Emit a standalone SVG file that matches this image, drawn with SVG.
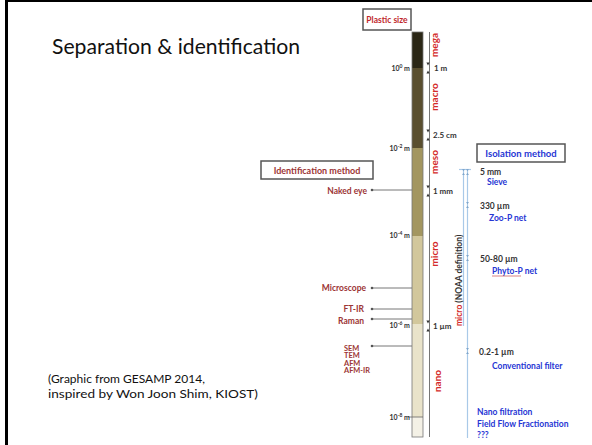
<svg xmlns="http://www.w3.org/2000/svg" width="592" height="445" viewBox="0 0 592 445">
<defs>
<style>
.t{font-family:Lato,"Liberation Sans",sans-serif}
.b{font-family:Lato,"Liberation Sans",sans-serif;font-weight:bold}
.pw{font-size:7px;fill:#333;text-anchor:end}
.sz{font-size:8px;fill:#333}
.rd{font-size:10px;fill:#d42a2a;text-anchor:middle}
.id{font-size:8.5px;fill:#9c3535}
.sm{font-size:7.4px;fill:#9c3535}
.bl{font-size:8.5px;fill:#2636d4}
.dk{font-size:8.5px;fill:#333}
.box{fill:#fff;stroke:#555;stroke-width:1.5}
.ln{stroke:#666;stroke-width:0.9;fill:none}
.bln{stroke:#a9c9e8;stroke-width:1.2;fill:none}
</style>
<g id="mk">
<path d="M-1.6,-5.5 L1.6,-5.5 L0,-2.5 Z M-1.6,5.5 L1.6,5.5 L0,2.5 Z" fill="#333"/>
</g>
<g id="bmk">
<path d="M-1.4,-3 L1.4,-3 L0,-0.8 Z M-1.4,3 L1.4,3 L0,0.8 Z" fill="#7fa6cc"/>
</g>
</defs>
<rect x="0" y="0" width="592" height="445" fill="#fff"/>
<rect x="6.5" y="0.5" width="700" height="700" fill="#fff" stroke="#000" stroke-width="3"/>

<g id="title">
<text class="t" x="52" y="54" font-size="21" fill="#111" textLength="248" lengthAdjust="spacingAndGlyphs">Separation &amp; identification</text>
</g>
<g id="citation">
<text class="t" x="48" y="383" font-size="12" fill="#111">(Graphic from GESAMP 2014,</text>
<text class="t" x="48" y="398" font-size="12" fill="#111" textLength="210" lengthAdjust="spacingAndGlyphs">inspired by Won Joon Shim, KIOST)</text>
</g>

<g id="connectors">
<line class="ln" x1="429.5" y1="32" x2="429.5" y2="437"/>
<line class="ln" x1="372" y1="190" x2="412" y2="190"/>
<line class="ln" x1="372" y1="288" x2="412" y2="288"/>
<line class="ln" x1="372" y1="309" x2="412" y2="309"/>
<line class="ln" x1="372" y1="319" x2="412" y2="319"/>
<line class="ln" x1="372" y1="346" x2="412" y2="346"/>
<circle cx="372" cy="190" r="1.3" fill="#555"/>
<circle cx="372" cy="288" r="1.3" fill="#555"/>
<circle cx="372" cy="309" r="1.3" fill="#555"/>
<circle cx="372" cy="319" r="1.3" fill="#555"/>
<circle cx="372" cy="346" r="1.3" fill="#555"/>
<line class="bln" x1="459" y1="169.5" x2="471" y2="169.5"/>
<line class="bln" x1="463.5" y1="170" x2="463.5" y2="326"/>
<line class="bln" x1="467.5" y1="170" x2="467.5" y2="438"/>
</g>

<g id="plastic-size">
<rect class="box" x="363" y="9" width="48" height="21"/>
<text class="b" x="387" y="23" font-size="8.5" fill="#c0282d" text-anchor="middle">Plastic size</text>
</g>

<g id="size-bar">
<rect x="412" y="32" width="11" height="36" fill="#2b2716"/>
<rect x="412" y="68" width="11" height="80" fill="#5a4f2f"/>
<rect x="412" y="148" width="11" height="88" fill="#a39660"/>
<rect x="412" y="236" width="11" height="88" fill="#d2c79c"/>
<rect x="412" y="324" width="11" height="93" fill="#e9e3ca"/>
<rect x="412" y="417" width="11" height="20" fill="#f4f1e6"/>
<rect x="412" y="32" width="11" height="405" fill="none" stroke="#777" stroke-width="0.8"/>
<line x1="408" y1="417" x2="423" y2="417" stroke="#666" stroke-width="0.8"/>
</g>

<g id="powers">
<text class="b pw" x="410" y="71">10<tspan dy="-3" font-size="5">0</tspan><tspan dy="3"> m</tspan></text>
<text class="b pw" x="410" y="151">10<tspan dy="-3" font-size="5">-2</tspan><tspan dy="3"> m</tspan></text>
<text class="b pw" x="410" y="238">10<tspan dy="-3" font-size="5">-4</tspan><tspan dy="3"> m</tspan></text>
<text class="b pw" x="410" y="328">10<tspan dy="-3" font-size="5">-6</tspan><tspan dy="3"> m</tspan></text>
<text class="b pw" x="410" y="420">10<tspan dy="-3" font-size="5">-8</tspan><tspan dy="3"> m</tspan></text>
</g>

<g id="size-marks">
<use href="#mk" x="428" y="68"/>
<use href="#mk" x="428" y="135"/>
<use href="#mk" x="428" y="191"/>
<use href="#mk" x="428" y="326"/>
<text class="b sz" x="434" y="71">1 m</text>
<text class="b sz" x="433" y="138">2.5 cm</text>
<text class="b sz" x="433" y="194">1 mm</text>
<text class="b sz" x="433" y="329">1 µm</text>
</g>

<g id="categories">
<text class="b rd" transform="translate(437.5,45) rotate(-90)">mega</text>
<text class="b rd" transform="translate(437.5,97) rotate(-90)">macro</text>
<text class="b rd" transform="translate(437.5,162) rotate(-90)">meso</text>
<text class="b rd" transform="translate(437.5,254) rotate(-90)">micro</text>
<text class="b rd" transform="translate(440.5,381) rotate(-90)">nano</text>
<text class="b" font-size="8.5" transform="translate(461.5,326) rotate(-90)"><tspan fill="#d42a2a">micro </tspan><tspan fill="#333">(NOAA definition)</tspan></text>
</g>

<g id="identification-method">
<rect class="box" x="261" y="161" width="112" height="18"/>
<text class="b" x="317" y="174" font-size="9" fill="#9c3535" text-anchor="middle">Identification method</text>
</g>
<g id="id-naked-eye"><text class="b id" x="367" y="194" text-anchor="end">Naked eye</text></g>
<g id="id-microscope"><text class="b id" x="366" y="291" text-anchor="end">Microscope</text></g>
<g id="id-ftir"><text class="b id" x="364" y="312" text-anchor="end">FT-IR</text></g>
<g id="id-raman"><text class="b id" x="364" y="324" text-anchor="end">Raman</text></g>
<g id="id-sem">
<text class="b sm" x="344" y="350.5">SEM</text>
<text class="b sm" x="344" y="358">TEM</text>
<text class="b sm" x="344" y="365.5">AFM</text>
<text class="b sm" x="344" y="373">AFM-IR</text>
</g>

<g id="isolation-method">
<rect class="box" x="477" y="144" width="88" height="18"/>
<text class="b" x="521" y="157" font-size="9.5" fill="#2636d4" text-anchor="middle">Isolation method</text>
</g>
<g id="iso-marks">
<use href="#bmk" x="463.5" y="172"/>
<use href="#bmk" x="467.5" y="172"/>
<use href="#bmk" x="467.5" y="205"/>
<use href="#bmk" x="467.5" y="258"/>
<use href="#bmk" x="467.5" y="351"/>
</g>
<g id="iso-sieve">
<text class="b dk" x="480" y="175">5 mm</text>
<text class="b bl" x="487" y="185">Sieve</text>
</g>
<g id="iso-zoo">
<text class="b dk" x="480" y="209">330 µm</text>
<text class="b bl" x="489" y="221">Zoo-P net</text>
</g>
<g id="iso-phyto">
<text class="b dk" x="480" y="262">50-80 µm</text>
<text class="b bl" x="492" y="274">Phyto-P net</text>
<line x1="492" y1="276" x2="521" y2="276" stroke="#c03030" stroke-width="0.6"/>
</g>
<g id="iso-filter">
<text class="b dk" x="479" y="355">0.2-1 µm</text>
<text class="b bl" x="492" y="369">Conventional filter</text>
</g>
<g id="iso-nano">
<text class="b bl" x="477" y="415">Nano filtration</text>
<text class="b bl" x="477" y="427">Field Flow Fractionation</text>
<text class="b bl" x="477" y="438">???</text>
</g>
</svg>
